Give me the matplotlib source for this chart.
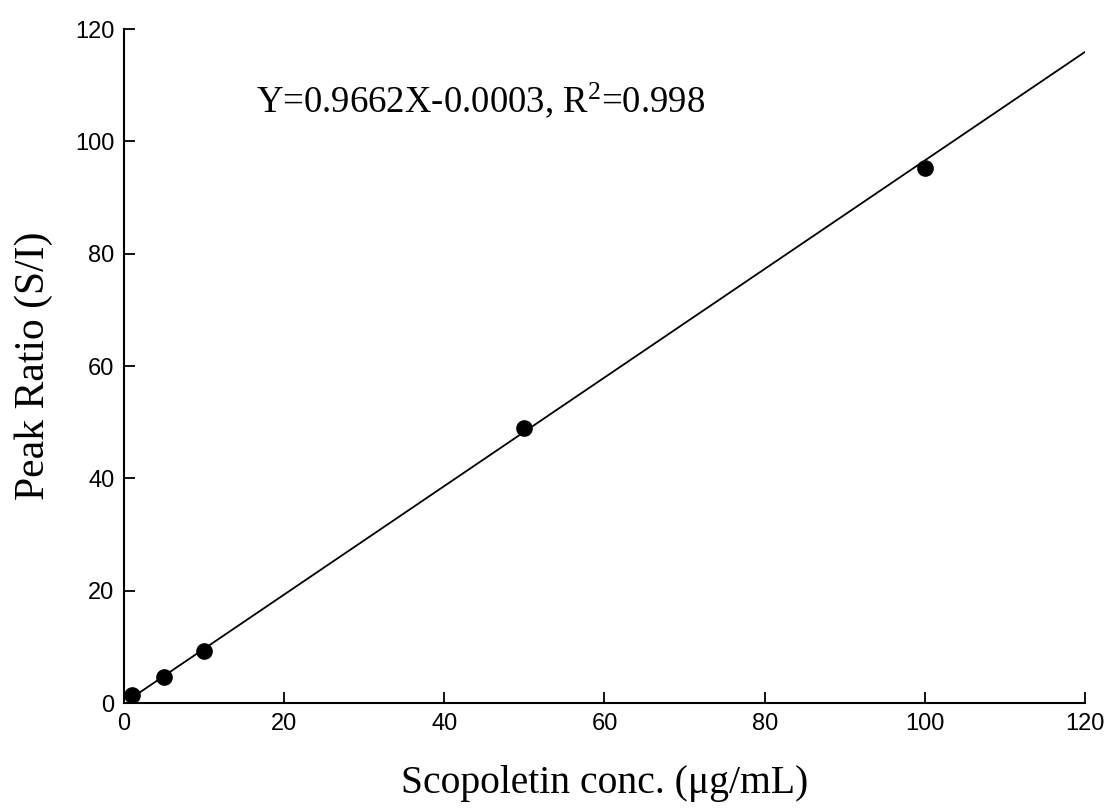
import numpy as np
import matplotlib.pyplot as plt

plt.rcParams['mathtext.fontset'] = 'custom'
plt.rcParams['mathtext.rm'] = 'Liberation Serif'

# Calibration data
conc = [1, 5, 10, 50, 100]
peak_ratio = [1.5, 4.7, 9.2, 49.0, 95.3]
slope = 0.9662
intercept = -0.0003
x_ticks = [0, 20, 40, 60, 80, 100, 120]
y_ticks = [0, 20, 40, 60, 80, 100, 120]

fig = plt.figure(figsize=(11.13, 8.10), dpi=100)
ax = fig.add_axes([0.1114, 0.132, 0.8634, 0.832])

xfit = np.array([1, 120])
ax.plot(xfit, slope * xfit + intercept, color='black', lw=1.3)
ax.plot(conc, peak_ratio, 'o', color='black', ms=11)

ax.set_xlim(0, 120)
ax.set_ylim(0, 120)
ax.set_xticks(x_ticks)
ax.set_yticks(y_ticks)
ax.spines['top'].set_visible(False)
ax.spines['right'].set_visible(False)
ax.spines['left'].set_linewidth(1.5)
ax.spines['bottom'].set_linewidth(1.5)
ax.tick_params(direction='in', length=8, width=1.3, labelsize=17, pad=7)
for lab in ax.get_xticklabels() + ax.get_yticklabels():
    lab.set_family('Liberation Sans')

ax.set_xlabel('Scopoletin conc. (\u03bcg/mL)', family='Liberation Serif', fontsize=28.5, labelpad=22)
ax.set_ylabel('Peak Ratio (S/I)', family='Liberation Serif', fontsize=30, labelpad=16)

ax.text(16.5, 107.4, r'Y=0.9662X-0.0003, R$\mathregular{^2}$=0.998', family='Liberation Serif',
        fontsize=26.5, va='center', ha='left')

fig.savefig('out.png', dpi=100)
